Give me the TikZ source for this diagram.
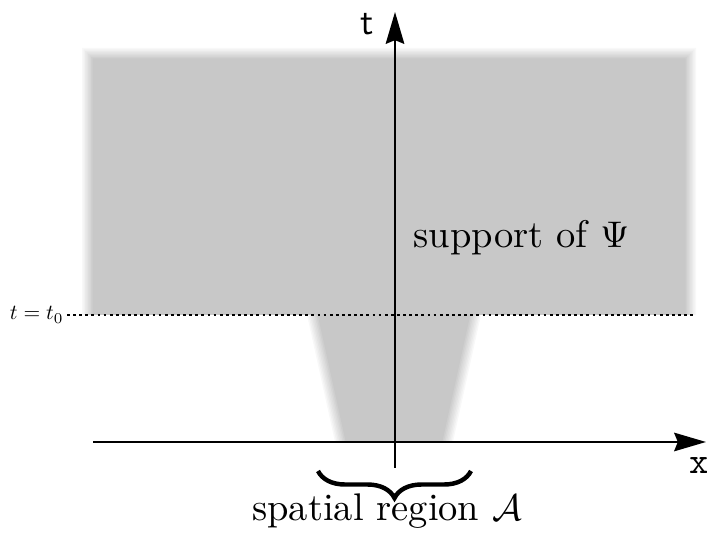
\documentclass[tikz,border=0pt]{standalone}
\definecolor{supportgray}{RGB}{200,200,200}
\usetikzlibrary{positioning,arrows.meta,decorations.pathreplacing}

\begin{document}
\begin{tikzpicture}[x=0.27pt,y=-0.27pt,
    axis/.style={line width=0.6pt,-{Stealth[length=8.6pt,width=5pt,inset=1pt]}},
    label/.style={inner sep=0pt,font=\fontsize{10.4}{12}\selectfont}]
    \useasboundingbox (0,0) rectangle (707,534);

    % Support of Psi, soft edges drawn as nested layers
    \foreach \k in {1,...,8} {
        \pgfmathsetmacro\d{(\k-1)*1.5}
        \pgfmathsetmacro\e{\d*1.024}
        \pgfmathsetmacro\p{\k*12.5}
        \fill[supportgray!\p] (82+\d,48+\d) -- (696-\d,48+\d) -- (696-\d,315)
            -- (481-\e,315) -- (453-\e,442) -- (335+\e,442) -- (307+\e,315)
            -- (82+\d,315) -- cycle;
    }

    % Time slice t = t0
    \coordinate (dotL) at (67,315);
    \coordinate (dotR) at (693,315);
    \draw[line width=0.75pt,dash pattern=on 0.75pt off 0.9pt] (dotL) -- (dotR);
    \node[inner sep=0pt,anchor=base east,scale=0.58] (tzero) at (64,320) {$t=t_0$};

    % Axes
    \coordinate (xL) at (93,442);
    \coordinate (xR) at (706,442);
    \coordinate (tB) at (395,468);
    \coordinate (tT) at (395,12);
    \draw[axis] (xL) -- (xR);
    \draw[axis] (tB) -- (tT);
    \node (tlab) at (367,24) {\textsf{t}};
    \node (xlab) at (699,466) {\texttt{x}};

    % Labels
    \node[label,anchor=base west] (support) at (413,248) {support of $\Psi$};

    \coordinate (braceL) at (318,471);
    \coordinate (braceR) at (471,471);
    \draw[line width=1.2pt,decorate,decoration={brace,mirror,amplitude=7.3pt}] (braceL) -- (braceR);
    \node[label,anchor=base] (region) at (387,521) {spatial region $\mathcal{A}$};
\end{tikzpicture}
\end{document}
